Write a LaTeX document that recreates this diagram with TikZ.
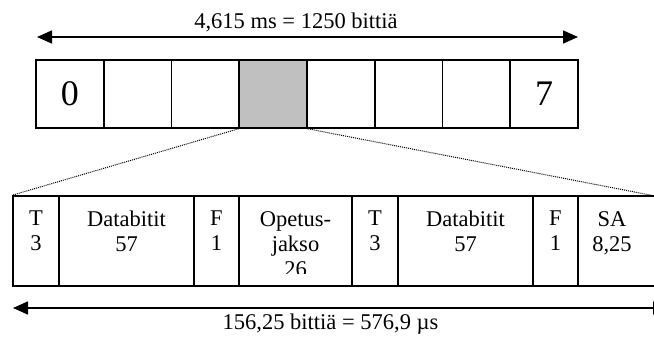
\documentclass[tikz,border=0pt]{standalone}
\usepackage{fontspec}
\setmainfont{Liberation Serif}
\usetikzlibrary{arrows.meta}
\definecolor{slotgray}{RGB}{192,192,192}
\tikzset{
  slotbox/.style={draw=black, line width=1.6pt, inner sep=0pt, minimum width=67.75pt, minimum height=68pt, font=\fontsize{36}{40}\selectfont},
  fieldbox/.style={draw=black, line width=1.6pt, inner sep=0pt, minimum height=90pt},
  fieldtext/.style={inner sep=0pt, align=center, anchor=north, font=\fontsize{22.5}{25}\selectfont},
  dimtext/.style={inner sep=0pt, anchor=base, font=\fontsize{22.5}{25}\selectfont},
  dimarrow/.style={line width=1.6pt, -{Triangle[length=15pt,width=13pt]}},
  zoomline/.style={line width=1pt, dash pattern=on 1pt off 1pt}
}
\begin{document}
\begin{tikzpicture}[x=1pt,y=-1pt]
\useasboundingbox (0,0) rectangle (654,343);
% top dimension
\coordinate (tl) at (37,37);
\coordinate (tr) at (578,37);
\draw[dimarrow] (307,37) -- (tl);
\draw[dimarrow] (307,37) -- (tr);
\node[dimtext] (ttext) at (296,28) {4,615 ms = 1250 bittiä};
% top row
\foreach \i/\lab in {0/0,1/,2/,4/,5/,6/,7/7}{
  \node[slotbox] (t\i) at ({36+67.75*(\i+0.5)},94) {\lab};
}
\node[slotbox, fill=slotgray] (t3) at ({36+67.75*3.5},94) {};
% bottom row
\node[fieldbox, minimum width=46pt]  (b1) at (36,241) {};
\node[fieldbox, minimum width=135pt] (b2) at (126.5,241) {};
\node[fieldbox, minimum width=45pt]  (b3) at (216.5,241) {};
\node[fieldbox, minimum width=113pt] (b4) at (295.5,241) {};
\node[fieldbox, minimum width=46pt]  (b5) at (375,241) {};
\node[fieldbox, minimum width=135pt] (b6) at (465.5,241) {};
\node[fieldbox, minimum width=45pt]  (b7) at (555.5,241) {};
\node[inner sep=0pt, minimum width=76pt, minimum height=90pt] (b8) at (616,241) {};
\draw[line width=1.6pt] (b8.north west) -- (b8.north east);
\draw[line width=1.6pt] (b8.south west) -- (b8.south east);
% field labels
\node[fieldtext] (l1) at (36,211) {T\\3};
\node[fieldtext] (l2) at (126.5,211) {Databitit\\57};
\node[fieldtext] (l3) at (216.5,211) {F\\1};
\begin{scope}
  \clip (240,197) rectangle (351,273);
  \node[fieldtext] (l4) at (295.5,211) {Opetus-\\jakso\\26};
\end{scope}
\node[fieldtext] (l5) at (375,211) {T\\3};
\node[fieldtext] (l6) at (465.5,211) {Databitit\\57};
\node[fieldtext] (l7) at (555.5,211) {F\\1};
\node[fieldtext] (l8) at (612,211) {SA\\8,25};
% zoom lines
\draw[zoomline] (t3.south west) -- (b1.north west);
\draw[zoomline] (t3.south east) -- (b8.north east);
% bottom dimension
\coordinate (bl) at (13,308);
\coordinate (br) at (668,308);
\draw[dimarrow] (330,308) -- (bl);
\draw[dimarrow] (330,308) -- (br);
\node[dimtext] (btext) at (330.5,329) {156,25 bittiä = 576,9 µs};
\end{tikzpicture}
\end{document}
